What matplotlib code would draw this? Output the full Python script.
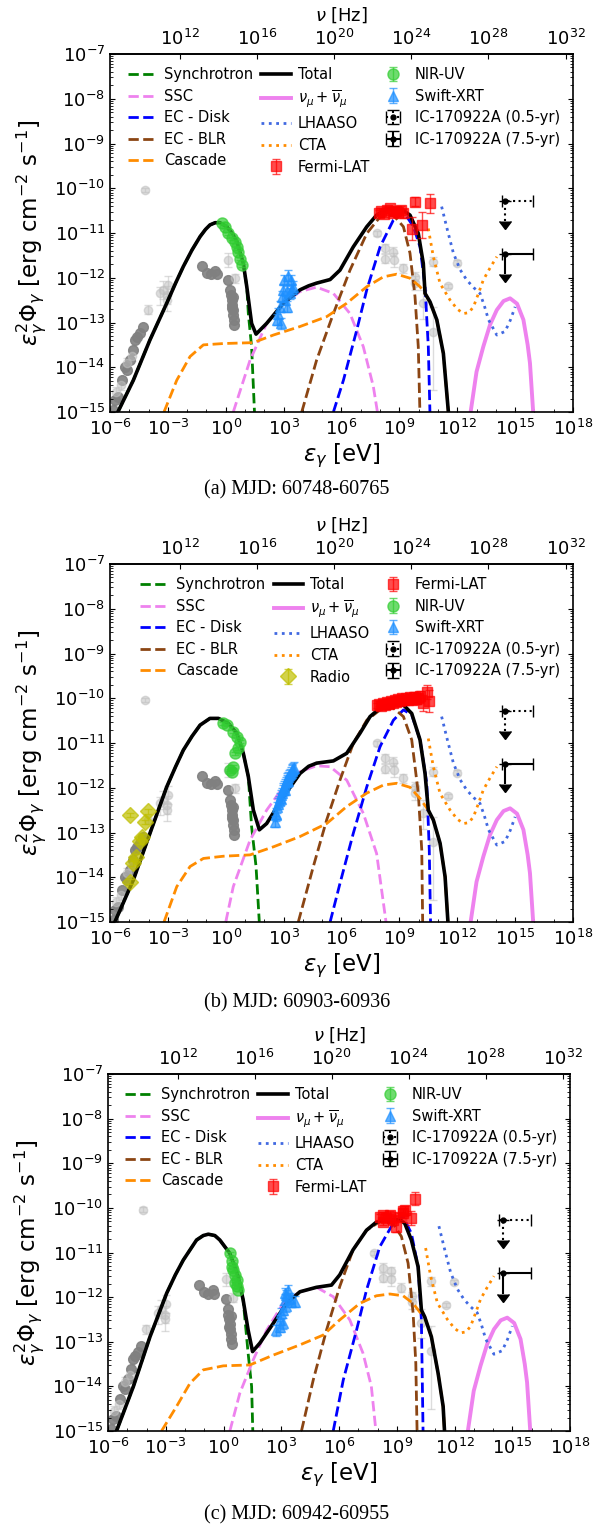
import numpy as np
import matplotlib
matplotlib.use('Agg')
import matplotlib.pyplot as plt
from matplotlib.ticker import LogLocator, NullFormatter, NullLocator

plt.rcParams['font.family'] = ['DejaVu Sans']
plt.rcParams['mathtext.fontset'] = 'dejavusans'
plt.rcParams['axes.linewidth'] = 1.2

# ---------------- model curves, (log10 E [eV], log10 flux) ----------------
# panel (a)
total_a = [(-5.57, -14.98), (-4.79, -14.29), (-3.93, -13.39), (-3.06, -12.57), (-2.60, -12.12),
           (-2.20, -11.75), (-1.75, -11.38), (-1.33, -11.08), (-1.05, -10.92), (-0.82, -10.82),
           (-0.55, -10.77), (-0.30, -10.77), (0.05, -10.86), (0.35, -11.02), (0.57, -11.19),
           (0.91, -11.68), (1.09, -12.20), (1.34, -13.02), (1.57, -13.26), (2.12, -13.02),
           (2.99, -12.57), (3.85, -12.27), (4.30, -12.18), (4.71, -12.12), (5.41, -12.04),
           (5.92, -11.83), (6.61, -11.31), (7.31, -10.86), (7.82, -10.60), (8.34, -10.47),
           (9.03, -10.45), (9.55, -10.60), (9.98, -11.01), (10.24, -11.68), (10.33, -12.35),
           (10.59, -12.54), (10.94, -12.94), (11.28, -13.69), (11.60, -15.3)]
sync_a_tail = [(1.17, -12.80), (1.34, -13.54), (1.52, -15.3)]
ssc_a = [(0.39, -15.0), (1.26, -13.84), (2.12, -13.02), (2.99, -12.57), (3.85, -12.31), (4.71, -12.21),
         (5.58, -12.35), (6.44, -12.80), (7.13, -13.54), (7.65, -14.43), (7.90, -15.1)]
blr_a = [(3.94, -15.0), (4.71, -13.84), (5.58, -12.80), (6.44, -11.83), (7.31, -11.01), (8.00, -10.64),
         (8.69, -10.60), (9.21, -10.86), (9.55, -11.45), (9.81, -12.42), (9.98, -13.54), (10.07, -15.1)]
disk_a = [(5.58, -15.0), (6.10, -14.29), (6.79, -13.17), (7.31, -12.27), (8.00, -11.31), (8.69, -10.71),
          (9.21, -10.52), (9.73, -10.86), (10.07, -11.31), (10.33, -12.20), (10.50, -13.54), (10.59, -15.1)]
casc_a = [(-3.20, -15.0), (-2.54, -14.29), (-1.85, -13.76), (-1.16, -13.50), (-0.12, -13.47),
          (1.43, -13.45), (2.47, -13.28), (3.85, -13.09), (5.23, -12.87), (6.27, -12.57), (7.31, -12.20),
          (8.17, -11.98), (8.86, -11.92), (9.55, -12.01), (10.07, -12.20), (10.33, -12.35),
          (10.59, -12.54), (10.94, -12.94), (11.28, -13.69), (11.60, -15.3)]

# panel (b)
total_b = [(-5.74, -14.99), (-4.79, -14.06), (-3.93, -13.02), (-3.06, -11.98), (-2.60, -11.53),
           (-2.20, -11.16), (-1.75, -10.85), (-1.33, -10.60), (-0.82, -10.45), (-0.38, -10.45),
           (0.13, -10.56), (0.57, -10.78), (0.91, -11.23), (1.17, -11.75), (1.43, -12.50),
           (1.74, -12.94), (2.12, -12.80), (2.99, -12.20), (3.85, -11.68), (4.30, -11.52),
           (4.71, -11.45), (5.58, -11.40), (6.27, -11.23), (6.96, -10.78), (7.48, -10.41),
           (8.00, -10.22), (8.52, -10.15), (9.21, -10.15), (9.64, -10.34), (10.07, -10.93),
           (10.33, -11.68), (10.50, -12.50), (10.76, -12.72), (11.11, -13.24), (11.37, -13.99),
           (11.56, -15.3)]
sync_b_tail = [(1.34, -12.87), (1.57, -13.76), (1.78, -15.3)]
ssc_b = [(0.00, -15.0), (0.39, -14.21), (1.26, -13.17), (2.12, -12.50), (2.99, -11.98), (3.85, -11.64),
         (4.71, -11.51), (5.41, -11.53), (6.27, -11.83), (7.13, -12.57), (7.82, -13.47), (8.34, -15.1)]
blr_b = [(3.76, -15.0), (4.54, -13.76), (5.23, -12.72), (5.92, -11.83), (6.61, -11.01), (7.31, -10.49),
         (8.00, -10.26), (8.69, -10.22), (9.21, -10.41), (9.64, -10.93), (9.98, -12.12), (10.16, -13.39),
         (10.21, -15.1)]
disk_b = [(5.41, -15.0), (5.92, -14.14), (6.61, -13.02), (7.31, -11.98), (8.00, -11.08), (8.69, -10.49),
          (9.21, -10.26), (9.64, -10.37), (10.07, -10.93), (10.42, -11.90), (10.55, -13.39), (10.62, -15.1)]
casc_b = [(-3.20, -15.0), (-2.54, -14.21), (-1.85, -13.76), (-1.16, -13.58), (-0.12, -13.53),
          (1.26, -13.50), (2.47, -13.32), (3.85, -13.09), (5.23, -12.80), (6.27, -12.42), (7.31, -12.12),
          (8.17, -11.94), (8.86, -11.90), (9.55, -11.99), (10.07, -12.24), (10.50, -12.50),
          (10.76, -12.72), (11.11, -13.24), (11.37, -13.99), (11.56, -15.3)]

# panel (c)
total_c = [(-5.55, -14.99), (-4.68, -14.00), (-3.82, -12.89), (-2.95, -11.91), (-2.50, -11.50),
           (-2.09, -11.17), (-1.40, -10.72), (-1.05, -10.62), (-0.79, -10.59), (-0.45, -10.62),
           (-0.19, -10.72), (0.33, -11.02), (0.76, -11.54), (1.02, -12.06), (1.28, -12.74),
           (1.51, -13.22), (1.89, -13.03), (2.58, -12.59), (3.27, -12.14), (3.97, -11.88),
           (4.83, -11.78), (5.61, -11.73), (6.04, -11.50), (6.73, -10.94), (7.43, -10.50),
           (7.94, -10.32), (8.46, -10.27), (9.16, -10.26), (9.42, -10.35), (9.76, -10.72),
           (10.11, -11.32), (10.28, -12.29), (10.45, -12.44), (10.80, -12.89), (11.15, -13.71),
           (11.41, -14.45), (11.52, -15.3)]
sync_c_tail = [(1.28, -13.26), (1.46, -14.00), (1.54, -15.3)]
ssc_c = [(0.33, -15.0), (0.85, -14.15), (1.54, -13.41), (2.24, -12.74), (3.10, -12.14), (3.97, -11.88),
         (4.83, -11.78), (5.70, -11.99), (6.56, -12.51), (7.25, -13.26), (7.68, -14.00), (7.94, -15.1)]
blr_c = [(4.05, -15.0), (4.66, -13.86), (5.35, -12.74), (6.04, -11.76), (6.73, -10.94), (7.43, -10.50),
         (8.12, -10.31), (8.81, -10.35), (9.24, -10.64), (9.59, -11.24), (9.85, -12.36), (9.99, -13.48),
         (10.06, -15.1)]
disk_c = [(5.70, -15.0), (6.22, -13.86), (6.91, -12.74), (7.43, -11.84), (8.12, -10.87), (8.81, -10.35),
          (9.33, -10.20), (9.76, -10.57), (10.11, -11.32), (10.28, -12.51), (10.37, -15.1)]
casc_c = [(-3.22, -15.0), (-2.44, -14.45), (-1.74, -13.93), (-1.05, -13.63), (-0.01, -13.54),
          (1.37, -13.52), (2.58, -13.30), (3.97, -13.07), (5.18, -12.85), (6.04, -12.51), (7.08, -12.14),
          (7.94, -11.97), (8.64, -11.93), (9.33, -11.97), (9.85, -12.14), (10.19, -12.33),
          (10.45, -12.44), (10.80, -12.89), (11.15, -13.71), (11.41, -14.45), (11.52, -15.3)]

# common to all panels
nu_curve = [(12.66, -15.1), (13.00, -14.10), (13.35, -13.54), (13.70, -13.05), (14.05, -12.72),
            (14.40, -12.52), (14.74, -12.46), (15.10, -12.58), (15.43, -12.94), (15.65, -13.50),
            (15.77, -13.91), (15.95, -15.1)]
lhaaso = [(11.19, -10.41), (11.50, -10.95), (11.80, -11.45), (12.15, -11.82), (12.49, -12.05),
          (12.85, -12.22), (13.18, -12.35), (13.40, -12.62), (13.62, -12.94), (14.05, -13.28),
          (14.48, -13.20), (14.75, -12.95), (15.00, -12.65)]
cta = [(10.50, -10.90), (10.76, -11.53), (11.11, -12.13), (11.63, -12.50), (12.00, -12.70),
       (12.32, -12.80), (12.60, -12.78), (12.84, -12.65), (13.10, -12.35), (13.35, -12.05),
       (13.70, -11.78), (14.05, -11.53)]

# IceCube IC-170922A upper limits: log E, log F, x-range
ic05 = (14.50, -10.28, 14.31, 15.95)
ic75 = (14.50, -11.47, 14.31, 15.95)

# ---------------- data points ----------------
# archival (grey)
arch_dark_logE = [-5.83, -5.74, -5.57, -5.39, -5.22, -5.14, -4.96, -4.79, -4.70, -4.62, -4.44, -4.27,
                  -1.25, -0.99, -0.78, -0.56, -0.47, 0.14, 0.22, 0.25, 0.31, 0.33, 0.36, 0.39, 0.41,
                  0.43, 0.39, 0.31]
arch_dark_logF = [-14.96, -14.73, -14.66, -14.29, -13.99, -14.06, -13.84, -13.62, -13.39, -13.32, -13.24,
                  -13.09, -11.73, -11.89, -11.92, -11.84, -11.92, -12.05, -12.27, -12.39, -12.50, -12.61,
                  -12.72, -12.83, -12.94, -13.06, -12.42, -12.68]
arch_light_logE = [-5.70, -5.45, -5.10, -4.85, -4.19, -4.01, -3.41, -3.23, -3.06, -3.06, -2.98, 0.14,
                   0.48, 7.82, 8.26, 8.26, 8.69, 8.72, 9.21, 9.81, 9.81, 10.24, 10.76, 10.76, 11.54,
                   11.97]
arch_light_logF = [-14.55, -14.40, -13.90, -13.75, -10.04, -12.72, -12.35, -12.27, -12.39, -12.50,
                   -12.16, -11.60, -12.01, -11.01, -11.34, -11.57, -11.42, -11.60, -11.79, -11.98,
                   -12.12, -12.57, -11.64, -13.21, -12.18, -11.66]
arch_light_err_lo = [0.1, 0.1, 0.1, 0.1, 0.05, 0.1, 0.25, 0.2, 0.2, 0.25, 0.2, 0.15, 0.1, 0.05, 0.1,
                     0.1, 0.1, 0.15, 0.1, 0.1, 0.15, 0.35, 0.1, 1.30, 0.05, 0.05]
arch_light_err_hi = [0.1, 0.1, 0.1, 0.1, 0.05, 0.1, 0.15, 0.2, 0.2, 0.15, 0.2, 0.15, 0.1, 0.05, 0.1,
                     0.1, 0.1, 0.15, 0.1, 0.1, 0.15, 0.30, 0.1, 0.56, 0.05, 0.05]

# panel (a) observations
nir_a_logE = [-0.21, -0.04, 0.13, 0.31, 0.48, 0.57, 0.65, 0.74, 0.83]
nir_a_logF = [-10.78, -10.86, -11.01, -11.12, -11.19, -11.31, -11.42, -11.57, -11.72]
swift_a_logE = [2.64, 2.72, 2.81, 2.85, 2.90, 2.99, 3.03, 3.08, 3.16, 3.20, 3.25, 3.33, 3.38, 3.42, 3.50]
swift_a_logF = [-12.94, -12.80, -12.65, -13.02, -12.42, -12.27, -12.05, -12.50, -12.30, -12.65, -11.95,
                -12.35, -12.05, -12.25, -12.20]
fermi_a_logE = [7.95, 8.05, 8.20, 8.34, 8.50, 8.69, 8.85, 8.95, 9.10, 9.21, 9.64, 9.81, 10.16, 10.59]
fermi_a_logF = [-10.55, -10.50, -10.58, -10.49, -10.45, -10.56, -10.50, -10.52, -10.48, -10.56, -10.90,
                -10.30, -10.82, -10.34]
fermi_a_err = [0.06, 0.06, 0.06, 0.06, 0.06, 0.07, 0.07, 0.08, 0.08, 0.10, 0.25, 0.10, 0.30, 0.22]

# panel (b) observations
radio_b_logE = [-4.96, -4.01, -4.18, -4.36, -4.44, -4.65, -4.79, -4.96]
radio_b_logF = [-12.61, -12.53, -12.76, -13.09, -13.20, -13.54, -13.69, -14.10]
nir_b_logE = [-0.12, 0.05, 0.39, 0.57, 0.74, 0.65, 0.50, 0.22, 0.39, 0.30]
nir_b_logF = [-10.56, -10.60, -10.75, -10.86, -10.97, -11.12, -11.23, -11.60, -11.53, -11.64]
swift_b_logE = [2.55, 2.62, 2.68, 2.72, 2.77, 2.81, 2.86, 2.90, 2.95, 2.99, 3.03, 3.08, 3.12, 3.16, 3.20,
                3.25, 3.29, 3.33, 3.38, 3.42, 3.46, 3.50, 3.55, 2.60, 2.85, 3.05, 3.22]
swift_b_logF = [-12.76, -12.58, -12.44, -12.36, -12.30, -12.23, -12.16, -12.12, -12.06, -12.02, -11.98,
                -11.93, -11.88, -11.84, -11.80, -11.76, -11.72, -11.70, -11.66, -11.62, -11.60, -11.57,
                -11.55, -12.62, -12.26, -12.05, -11.86]
fermi_b_logE = [7.85, 7.95, 8.05, 8.15, 8.25, 8.35, 8.45, 8.55, 8.65, 8.75, 8.85, 8.95, 9.05, 9.15, 9.25,
                9.35, 9.45, 9.55, 9.65, 9.75, 9.85, 9.95, 10.05, 10.20, 10.42, 10.55]
fermi_b_logF = [-10.16, -10.12, -10.18, -10.10, -10.14, -10.08, -10.12, -10.06, -10.10, -10.04, -10.08,
                -10.02, -10.06, -10.00, -10.05, -10.00, -10.03, -9.98, -10.04, -9.97, -10.02, -10.00,
                -9.96, -10.10, -9.86, -10.06]
fermi_b_err = [0.06, 0.06, 0.06, 0.06, 0.06, 0.06, 0.06, 0.06, 0.06, 0.06, 0.06, 0.07, 0.07, 0.07, 0.07,
               0.08, 0.08, 0.08, 0.09, 0.10, 0.10, 0.12, 0.12, 0.18, 0.15, 0.25]

# panel (c) observations
nir_c_logE = [0.33, 0.42, 0.50, 0.59, 0.68, 0.68, 0.76, 0.42, 0.59]
nir_c_logF = [-11.02, -11.32, -11.39, -11.50, -11.62, -11.76, -11.84, -11.20, -11.69]
swift_c_logE = [2.75, 2.93, 3.01, 3.10, 3.19, 3.27, 3.36, 3.45, 3.53, 3.71, 3.27, 3.10, 2.93, 3.19]
swift_c_logF = [-12.74, -12.51, -12.36, -12.29, -12.06, -11.95, -11.84, -12.03, -12.10, -12.10, -12.21,
                -12.59, -12.66, -11.91]
fermi_c_logE = [8.12, 8.29, 8.46, 8.64, 8.81, 8.98, 9.16, 9.33, 9.42, 9.76, 9.93, 8.29, 8.64, 9.33]
fermi_c_logF = [-10.20, -10.16, -10.23, -10.20, -10.27, -10.42, -10.20, -10.08, -10.05, -10.23, -9.79,
                -10.31, -10.16, -10.12]
fermi_c_err = [0.07, 0.07, 0.07, 0.07, 0.08, 0.12, 0.08, 0.08, 0.10, 0.15, 0.15, 0.08, 0.08, 0.10]

captions = ['(a) MJD: 60748-60765', '(b) MJD: 60903-60936', '(c) MJD: 60942-60955']

H = 1526.0
W = 594.0
# axes boxes in pixels: left, right, top, bottom
boxes = [(110, 573, 54, 412), (110, 573, 564, 922), (108, 570, 1074, 1431)]
caption_y = [490, 1003, 1515]


def curve(ax, pts, **kw):
    pts = np.array(pts)
    return ax.plot(10.0 ** pts[:, 0], 10.0 ** pts[:, 1], **kw)[0]


def points(ax, logE, logF, err, **kw):
    E = 10.0 ** np.array(logE)
    F = 10.0 ** np.array(logF)
    err = np.array(err)
    yerr = [F - F / 10.0 ** err, F * 10.0 ** err - F]
    return ax.errorbar(E, F, yerr=yerr, ls='none', capsize=3, elinewidth=1, **kw)


def draw_panel(ax, total, sync_tail, ssc, blr, disk, casc, nir, swift, fermi, radio=None):
    h = {}
    # archival data
    ae = 10.0 ** np.array(arch_light_logE)
    af = 10.0 ** np.array(arch_light_logF)
    ayerr = [af - af / 10.0 ** np.array(arch_light_err_lo), af * 10.0 ** np.array(arch_light_err_hi) - af]
    ax.errorbar(ae, af, yerr=ayerr, fmt='o', color='silver', ms=6, alpha=0.55, capsize=3, elinewidth=1,
                zorder=1)
    ax.plot(10.0 ** np.array(arch_dark_logE), 10.0 ** np.array(arch_dark_logF), 'o', color='gray',
            ms=7, alpha=0.9, zorder=1)

    # synchrotron follows the total until it breaks away
    n_keep = sum(1 for p in total if p[0] < sync_tail[0][0])
    sync = list(total[:n_keep]) + sync_tail
    h['sync'] = curve(ax, sync, color='green', ls='--', lw=2, label='Synchrotron', zorder=2)
    h['ssc'] = curve(ax, ssc, color='violet', ls='--', lw=2, label='SSC', zorder=2)
    h['disk'] = curve(ax, disk, color='blue', ls='--', lw=2, label='EC - Disk', zorder=2)
    h['blr'] = curve(ax, blr, color='saddlebrown', ls='--', lw=2, label='EC - BLR', zorder=2)
    h['casc'] = curve(ax, casc, color='darkorange', ls='--', lw=2, label='Cascade', zorder=2)
    h['total'] = curve(ax, total, color='black', ls='-', lw=2.6, label='Total', zorder=2.5)
    h['nu'] = curve(ax, nu_curve, color='violet', ls='-', lw=2.8,
                    label=r'$\nu_\mu+\overline{\nu}_\mu$', zorder=2)
    h['lhaaso'] = curve(ax, lhaaso, color='royalblue', ls=':', lw=2, label='LHAASO', zorder=2)
    h['cta'] = curve(ax, cta, color='darkorange', ls=':', lw=2, label='CTA', zorder=2)

    h['fermi'] = points(ax, fermi[0], fermi[1], fermi[2], fmt='s', color='red', ms=7, alpha=0.7,
                        label='Fermi-LAT', zorder=3)
    h['nir'] = points(ax, nir[0], nir[1], [0.03] * len(nir[0]), fmt='o', color='limegreen', ms=8,
                      alpha=0.7, label='NIR-UV', zorder=3)
    h['swift'] = points(ax, swift[0], swift[1], [0.12] * len(swift[0]), fmt='^', color='dodgerblue',
                        ms=7, alpha=0.7, label='Swift-XRT', zorder=3)
    if radio is not None:
        h['radio'] = points(ax, radio[0], radio[1], [0.05] * len(radio[0]), fmt='D', color='y', ms=8,
                            alpha=0.7, label='Radio', zorder=3)

    for key, ic, style, lab in [('ic05', ic05, ':', 'IC-170922A (0.5-yr)'),
                                ('ic75', ic75, '-', 'IC-170922A (7.5-yr)')]:
        e, f = 10.0 ** ic[0], 10.0 ** ic[1]
        xerr = [[e - 10.0 ** ic[2]], [10.0 ** ic[3] - e]]
        eb = ax.errorbar([e], [f], xerr=xerr, yerr=[[f - f / 10.0 ** 0.45], [0]], uplims=True, fmt='o',
                         color='black', ms=3.5, capsize=4, elinewidth=1.5, label=lab, zorder=3)
        for lc in eb[2]:
            lc.set_linestyle(style)
        h[key] = eb

    ax.set_xscale('log')
    ax.set_yscale('log')
    ax.set_xlim(1e-6, 1e18)
    ax.set_ylim(1e-15, 1e-7)
    ax.set_xticks(10.0 ** np.arange(-6, 19, 3))
    ax.set_xticks(10.0 ** np.arange(-6, 19, 1), minor=True)
    ax.xaxis.set_minor_formatter(NullFormatter())
    ax.yaxis.set_major_locator(LogLocator(base=10, numticks=20))
    ax.yaxis.set_minor_locator(LogLocator(base=10, subs=np.arange(2, 10), numticks=20))
    ax.yaxis.set_minor_formatter(NullFormatter())
    ax.tick_params(which='both', direction='in', right=True, labelsize=13)
    ax.tick_params(axis='x', pad=5)
    ax.set_xlabel(r'$\epsilon_\gamma$ [eV]', fontsize=16.5, labelpad=2)
    ax.set_ylabel(r'$\epsilon_\gamma^2\Phi_\gamma$ [erg cm$^{-2}$ s$^{-1}$]', fontsize=16.5, labelpad=4)

    K = 2.418e14
    sec = ax.secondary_xaxis('top', functions=(lambda x: x * K, lambda x: x / K))
    sec.set_xticks(10.0 ** np.arange(12, 33, 4))
    sec.xaxis.set_minor_locator(NullLocator())
    sec.tick_params(direction='in', labelsize=13)
    sec.set_xlabel(r'$\nu$ [Hz]', fontsize=13, labelpad=6)
    return h


fig = plt.figure(figsize=(W / 100, H / 100), dpi=100)
panel_data = [
    (total_a, sync_a_tail, ssc_a, blr_a, disk_a, casc_a, (nir_a_logE, nir_a_logF),
     (swift_a_logE, swift_a_logF), (fermi_a_logE, fermi_a_logF, fermi_a_err), None),
    (total_b, sync_b_tail, ssc_b, blr_b, disk_b, casc_b, (nir_b_logE, nir_b_logF),
     (swift_b_logE, swift_b_logF), (fermi_b_logE, fermi_b_logF, fermi_b_err), (radio_b_logE, radio_b_logF)),
    (total_c, sync_c_tail, ssc_c, blr_c, disk_c, casc_c, (nir_c_logE, nir_c_logF),
     (swift_c_logE, swift_c_logF), (fermi_c_logE, fermi_c_logF, fermi_c_err), None),
]

for i, (box, pdata) in enumerate(zip(boxes, panel_data)):
    l, r, t, b = box
    ax = fig.add_axes([l / W, 1 - b / H, (r - l) / W, (b - t) / H])
    h = draw_panel(ax, *pdata)
    if pdata[-1] is None:
        order = ['sync', 'ssc', 'disk', 'blr', 'casc', 'total', 'nu', 'lhaaso', 'cta', 'fermi',
                 'nir', 'swift', 'ic05', 'ic75']
    else:
        order = ['sync', 'ssc', 'disk', 'blr', 'casc', 'total', 'nu', 'lhaaso', 'cta', 'radio',
                 'fermi', 'nir', 'swift', 'ic05', 'ic75']
    handles = [h[k] for k in order]
    ax.legend(handles, [x.get_label() for x in handles], loc='upper right', ncol=3, frameon=False,
              fontsize=10.5, columnspacing=0.55, handletextpad=0.5, labelspacing=0.45,
              borderaxespad=0.5)
    fig.text(0.5, 1 - caption_y[i] / H, captions[i], ha='center', va='center',
             family='Liberation Serif', fontsize=14.5)

fig.savefig('out.png', dpi=100)
